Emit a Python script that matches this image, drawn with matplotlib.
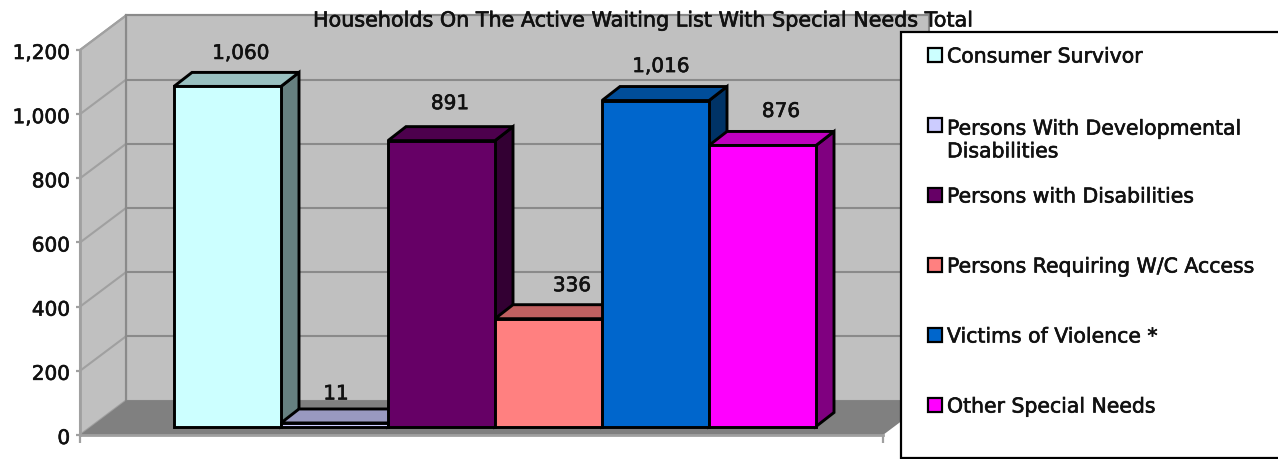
import matplotlib
matplotlib.use("Agg")
import matplotlib.pyplot as plt
import matplotlib.patheffects as pe
from matplotlib.patches import Rectangle
from matplotlib.transforms import ScaledTranslation

categories = ["Consumer Survivor", "Persons With Developmental\nDisabilities",
              "Persons with Disabilities", "Persons Requiring W/C Access",
              "Victims of Violence *", "Other Special Needs"]
values = [1060, 11, 891, 336, 1016, 876]
front_colors = ["#CCFFFF", "#CCCCFF", "#660066", "#FF8080", "#0066CC", "#FF00FF"]
top_colors = ["#99C0C0", "#9999C0", "#4D004D", "#C06060", "#004D99", "#C000C0"]
side_colors = ["#668080", "#666680", "#330033", "#804040", "#003366", "#800080"]
y_ticks = [0, 200, 400, 600, 800, 1000, 1200]
title = "Households On The Active Waiting List With Special Needs Total"

W, H = 1278, 460
LEFT, RIGHT, TOP, BOTTOM = 80, 883, 51, 436
BAR_PX = 107.0
BAR0_PX = 174.0
YS = (BOTTOM - TOP) / 1200.0
FS = 14.4
INK = "#111111"
HEAVY = [pe.withStroke(linewidth=0.45, foreground=INK)]

plt.rcParams["font.family"] = ["DejaVu Sans"]
fig = plt.figure(figsize=(W / 100, H / 100), dpi=100, facecolor="white")
ax = fig.add_axes([LEFT / W, 1 - BOTTOM / H, (RIGHT - LEFT) / W, (BOTTOM - TOP) / H])
xmin, xmax = (LEFT - BAR0_PX) / BAR_PX, (RIGHT - BAR0_PX) / BAR_PX
ax.set_xlim(xmin, xmax)
ax.set_ylim(0, 1200)
ax.patch.set_visible(False)

def ux(px): return px / BAR_PX
def uy(px): return px / YS

wdx, wdy = ux(46), uy(34.5)
bdx, bdy = ux(18), uy(14)
base = uy(8.5)
GREY = "#8A8A8A"
LGREY = "#A0A0A0"
GLW = 1.5
BLW = 2.1

def poly(xs, ys, fc, ec="none", lw=0, z=1):
    ax.fill(xs, ys, facecolor=fc, edgecolor=ec, linewidth=lw, zorder=z,
            clip_on=False, joinstyle="miter")

# walls and floor
poly([xmin + wdx, xmax + wdx, xmax + wdx, xmin + wdx],
     [wdy, wdy, 1200 + wdy, 1200 + wdy], "#C0C0C0", GREY, GLW, 1)
poly([xmin, xmin + wdx, xmin + wdx, xmin], [0, wdy, 1200 + wdy, 1200], "#C0C0C0", LGREY, GLW, 1)
for t in y_ticks[1:]:
    ax.plot([xmin, xmin + wdx], [t, t + wdy], color=LGREY, lw=GLW, zorder=1.5, clip_on=False)
    ax.plot([xmin + wdx, xmax + wdx], [t + wdy, t + wdy], color=GREY, lw=GLW, zorder=1.5, clip_on=False)
poly([xmin, xmax, xmax + wdx, xmin + wdx], [0, 0, wdy, wdy], "#808080", z=2)
ax.plot([xmin + wdx, xmin + wdx], [wdy, 1200 + wdy], color=GREY, lw=GLW, zorder=1.6, clip_on=False)

# bars
label_shift = [0, -12, -5, 10, -8, 5]
label_gap = [19, 15, 23, 19, 20, 20]
for i, v in enumerate(values):
    z = 3 + i * 0.1
    lo, hi = base, base + v
    poly([i + 1, i + 1 + bdx, i + 1 + bdx, i + 1], [lo, lo + bdy, hi + bdy, hi],
         side_colors[i], "black", BLW, z)
    poly([i, i + 1, i + 1 + bdx, i + bdx], [hi, hi, hi + bdy, hi + bdy],
         top_colors[i], "black", BLW, z + 0.01)
    poly([i, i + 1, i + 1, i], [lo, lo, hi, hi], front_colors[i], "black", BLW, z + 0.02)
    ax.text(i + 0.5 + bdx * 0.75 + ux(label_shift[i]), hi + bdy + uy(label_gap[i]), f"{v:,}",
            ha="center", va="center", fontsize=FS, color=INK, zorder=6, path_effects=HEAVY)

# axes
for s in ("top", "right"):
    ax.spines[s].set_visible(False)
for s in ("left", "bottom"):
    ax.spines[s].set_color(LGREY)
    ax.spines[s].set_linewidth(2)
    ax.spines[s].set_zorder(2.5)
ax.set_yticks(y_ticks)
ax.set_yticklabels([f"{t:,}" for t in y_ticks], fontsize=FS, color=INK, path_effects=HEAVY)
ax.tick_params(axis="y", length=3, width=1.6, color=LGREY, pad=4)
down = ScaledTranslation(0, -1.5 / 100, fig.dpi_scale_trans)
for lbl in ax.get_yticklabels():
    lbl.set_transform(lbl.get_transform() + down)
ax.set_xticks([xmin, xmax])
ax.set_xticklabels([])
ax.tick_params(axis="x", length=6, width=1.6, color=LGREY)

# figure-level overlay in pixel coordinates: title and legend
ov = fig.add_axes([0, 0, 1, 1])
ov.set_xlim(0, W)
ov.set_ylim(H, 0)
ov.axis("off")
ov.patch.set_visible(False)
ov.text(642, 21.5, title, ha="center", va="center", fontsize=14.9, color=INK, path_effects=HEAVY)
ov.add_patch(Rectangle((901, 33), 380, 426, facecolor="white", edgecolor="black", linewidth=1.6, clip_on=True))
row_y = [58, 141.5, 198, 268, 338, 408]
swatch_y = [56, 126, 196, 266, 336, 406]
for name, c, y, sy in zip(categories, front_colors, row_y, swatch_y):
    ov.add_patch(Rectangle((927.5, sy - 7), 14, 14, facecolor=c, edgecolor="black", linewidth=1.6))
    ov.text(947, y, name, ha="left", va="center", fontsize=14.7, color=INK, linespacing=1.25,
            path_effects=HEAVY)

fig.savefig("out.png", dpi=100)
